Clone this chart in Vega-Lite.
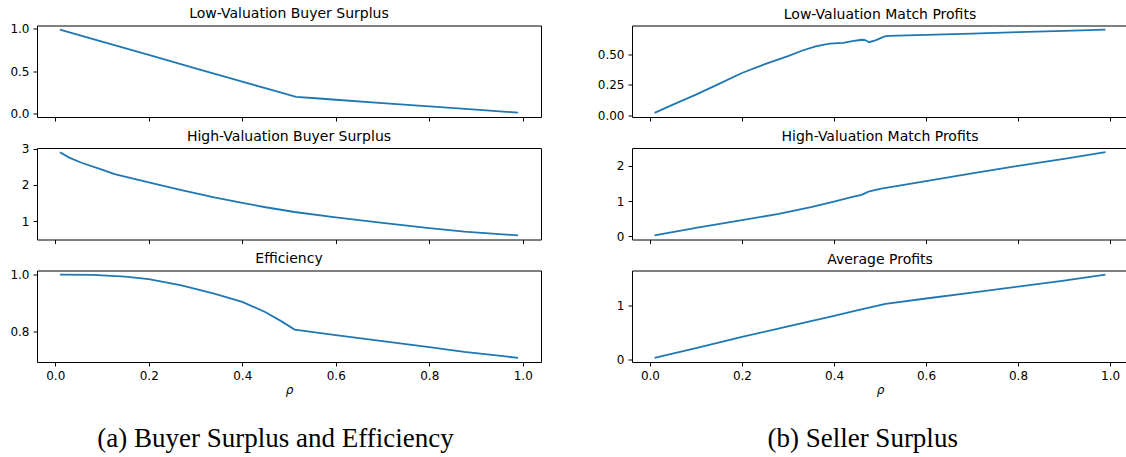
{
  "$schema": "https://vega.github.io/schema/vega-lite/v6.json",
  "padding": {"left": 9, "top": 6.5, "right": 1, "bottom": 4},
  "background": "white",
  "config": {
    "view": {"stroke": "black", "strokeWidth": 1},
    "axis": {"grid": false, "domain": false, "tickColor": "black", "tickSize": 4, "tickWidth": 1, "labelColor": "black", "labelFont": "DejaVu Sans", "labelFontSize": 12, "labelPadding": 4, "titleFont": "DejaVu Sans", "titleFontWeight": "normal", "titleColor": "black", "titleFontSize": 12, "titleFontStyle": "italic", "titlePadding": 3.2},
    "title": {"font": "DejaVu Sans", "fontSize": 14, "fontWeight": "normal", "color": "black"},
    "line": {"color": "#1f77b4", "strokeWidth": 1.8}
  },
  "datasets": {
    "lowBuyer": [
      {"rho": 0.01, "v": 0.99}, {"rho": 0.1, "v": 0.849}, {"rho": 0.2, "v": 0.692}, {"rho": 0.3, "v": 0.535},
      {"rho": 0.4, "v": 0.378}, {"rho": 0.47, "v": 0.268}, {"rho": 0.5, "v": 0.222}, {"rho": 0.515, "v": 0.198},
      {"rho": 0.55, "v": 0.185}, {"rho": 0.6, "v": 0.164}, {"rho": 0.7, "v": 0.124}, {"rho": 0.8, "v": 0.086},
      {"rho": 0.9, "v": 0.047}, {"rho": 0.99, "v": 0.012}
    ],
    "highBuyer": [
      {"rho": 0.01, "v": 2.9}, {"rho": 0.03, "v": 2.75}, {"rho": 0.056, "v": 2.61}, {"rho": 0.1, "v": 2.42},
      {"rho": 0.127, "v": 2.3}, {"rho": 0.2, "v": 2.07}, {"rho": 0.27, "v": 1.86}, {"rho": 0.34, "v": 1.66},
      {"rho": 0.4, "v": 1.51}, {"rho": 0.45, "v": 1.39}, {"rho": 0.512, "v": 1.26}, {"rho": 0.6, "v": 1.11},
      {"rho": 0.7, "v": 0.96}, {"rho": 0.8, "v": 0.82}, {"rho": 0.875, "v": 0.72}, {"rho": 0.99, "v": 0.62}
    ],
    "eff": [
      {"rho": 0.01, "v": 1.0}, {"rho": 0.08, "v": 0.999}, {"rho": 0.15, "v": 0.993}, {"rho": 0.2, "v": 0.984},
      {"rho": 0.27, "v": 0.962}, {"rho": 0.34, "v": 0.933}, {"rho": 0.4, "v": 0.904}, {"rho": 0.45, "v": 0.867},
      {"rho": 0.485, "v": 0.834}, {"rho": 0.512, "v": 0.806}, {"rho": 0.6, "v": 0.786}, {"rho": 0.7, "v": 0.765},
      {"rho": 0.8, "v": 0.744}, {"rho": 0.875, "v": 0.727}, {"rho": 0.99, "v": 0.706}
    ],
    "lowProfit": [
      {"rho": 0.01, "v": 0.02}, {"rho": 0.05, "v": 0.088}, {"rho": 0.1, "v": 0.17}, {"rho": 0.15, "v": 0.258},
      {"rho": 0.2, "v": 0.347}, {"rho": 0.25, "v": 0.42}, {"rho": 0.3, "v": 0.485}, {"rho": 0.33, "v": 0.53},
      {"rho": 0.36, "v": 0.565}, {"rho": 0.39, "v": 0.588}, {"rho": 0.42, "v": 0.595}, {"rho": 0.44, "v": 0.608},
      {"rho": 0.46, "v": 0.62}, {"rho": 0.468, "v": 0.618}, {"rho": 0.476, "v": 0.6}, {"rho": 0.49, "v": 0.615},
      {"rho": 0.51, "v": 0.648}, {"rho": 0.52, "v": 0.652}, {"rho": 0.6, "v": 0.66}, {"rho": 0.7, "v": 0.671},
      {"rho": 0.8, "v": 0.682}, {"rho": 0.9, "v": 0.693}, {"rho": 0.99, "v": 0.703}
    ],
    "highProfit": [
      {"rho": 0.01, "v": 0.03}, {"rho": 0.1, "v": 0.24}, {"rho": 0.2, "v": 0.46}, {"rho": 0.28, "v": 0.64},
      {"rho": 0.35, "v": 0.83}, {"rho": 0.4, "v": 0.99}, {"rho": 0.44, "v": 1.12}, {"rho": 0.46, "v": 1.18},
      {"rho": 0.475, "v": 1.27}, {"rho": 0.5, "v": 1.35}, {"rho": 0.6, "v": 1.57}, {"rho": 0.7, "v": 1.79},
      {"rho": 0.8, "v": 2.0}, {"rho": 0.9, "v": 2.2}, {"rho": 0.99, "v": 2.39}
    ],
    "avgProfit": [
      {"rho": 0.01, "v": 0.025}, {"rho": 0.1, "v": 0.205}, {"rho": 0.2, "v": 0.41}, {"rho": 0.3, "v": 0.605},
      {"rho": 0.4, "v": 0.8}, {"rho": 0.45, "v": 0.9}, {"rho": 0.512, "v": 1.02}, {"rho": 0.6, "v": 1.12},
      {"rho": 0.7, "v": 1.23}, {"rho": 0.8, "v": 1.34}, {"rho": 0.9, "v": 1.45}, {"rho": 0.99, "v": 1.56}
    ]
  },
  "hconcat": [
    {
      "spacing": 30.5,
      "bounds": "flush",
      "title": {"text": "(a) Buyer Surplus and Efficiency", "orient": "bottom", "anchor": "middle", "frame": "bounds", "baseline": "alphabetic", "offset": 51.5, "font": "Liberation Serif", "fontSize": 27},
      "vconcat": [
        {
          "data": {"name": "lowBuyer"},
          "width": 504, "height": 91.5,
          "title": {"text": "Low-Valuation Buyer Surplus", "baseline": "alphabetic", "offset": -9.6},
          "mark": {"type": "line", "clip": true},
          "encoding": {
            "x": {"field": "rho", "type": "quantitative", "scale": {"domain": [-0.039, 1.039], "nice": false, "zero": false}, "axis": {"values": [0, 0.2, 0.4, 0.6, 0.8, 1.0], "labels": false, "title": null}},
            "y": {"field": "v", "type": "quantitative", "scale": {"domain": [-0.039, 1.039], "nice": false, "zero": false}, "axis": {"values": [0, 0.5, 1], "format": ".1f", "title": null}}
          }
        },
        {
          "data": {"name": "highBuyer"},
          "width": 504, "height": 91.5,
          "title": {"text": "High-Valuation Buyer Surplus", "baseline": "alphabetic", "offset": -12.4},
          "mark": {"type": "line", "clip": true},
          "encoding": {
            "x": {"field": "rho", "type": "quantitative", "scale": {"domain": [-0.039, 1.039], "nice": false, "zero": false}, "axis": {"values": [0, 0.2, 0.4, 0.6, 0.8, 1.0], "labels": false, "title": null}},
            "y": {"field": "v", "type": "quantitative", "scale": {"domain": [0.506, 3.014], "nice": false, "zero": false}, "axis": {"values": [1, 2, 3], "format": "d", "title": null}}
          }
        },
        {
          "data": {"name": "eff"},
          "width": 504, "height": 91.5,
          "title": {"text": "Efficiency", "baseline": "alphabetic", "offset": -8.7},
          "mark": {"type": "line", "clip": true},
          "encoding": {
            "x": {"field": "rho", "type": "quantitative", "scale": {"domain": [-0.039, 1.039], "nice": false, "zero": false}, "axis": {"values": [0, 0.2, 0.4, 0.6, 0.8, 1.0], "format": ".1f", "title": "ρ"}},
            "y": {"field": "v", "type": "quantitative", "scale": {"domain": [0.6913, 1.0147], "nice": false, "zero": false}, "axis": {"values": [0.8, 1.0], "format": ".1f", "title": null}}
          }
        }
      ]
    },
    {
      "spacing": 30.5,
      "bounds": "flush",
      "title": {"text": "(b) Seller Surplus", "orient": "bottom", "anchor": "middle", "frame": "bounds", "baseline": "alphabetic", "offset": 51.5, "font": "Liberation Serif", "fontSize": 27},
      "vconcat": [
        {
          "data": {"name": "lowProfit"},
          "width": 496, "height": 91.5,
          "title": {"text": "Low-Valuation Match Profits", "baseline": "alphabetic", "offset": -7.4},
          "mark": {"type": "line", "clip": true},
          "encoding": {
            "x": {"field": "rho", "type": "quantitative", "scale": {"domain": [-0.039, 1.039], "nice": false, "zero": false}, "axis": {"values": [0, 0.2, 0.4, 0.6, 0.8, 1.0], "labels": false, "title": null}},
            "y": {"field": "v", "type": "quantitative", "scale": {"domain": [-0.0142, 0.7372], "nice": false, "zero": false}, "axis": {"values": [0, 0.25, 0.5], "format": ".2f", "title": null}}
          }
        },
        {
          "data": {"name": "highProfit"},
          "width": 496, "height": 91.5,
          "title": {"text": "High-Valuation Match Profits", "baseline": "alphabetic", "offset": -7.4},
          "mark": {"type": "line", "clip": true},
          "encoding": {
            "x": {"field": "rho", "type": "quantitative", "scale": {"domain": [-0.039, 1.039], "nice": false, "zero": false}, "axis": {"values": [0, 0.2, 0.4, 0.6, 0.8, 1.0], "labels": false, "title": null}},
            "y": {"field": "v", "type": "quantitative", "scale": {"domain": [-0.088, 2.508], "nice": false, "zero": false}, "axis": {"values": [0, 1, 2], "format": "d", "title": null}}
          }
        },
        {
          "data": {"name": "avgProfit"},
          "width": 496, "height": 91.5,
          "title": {"text": "Average Profits", "baseline": "alphabetic", "offset": -7.4},
          "mark": {"type": "line", "clip": true},
          "encoding": {
            "x": {"field": "rho", "type": "quantitative", "scale": {"domain": [-0.039, 1.039], "nice": false, "zero": false}, "axis": {"values": [0, 0.2, 0.4, 0.6, 0.8, 1.0], "format": ".1f", "title": "ρ"}},
            "y": {"field": "v", "type": "quantitative", "scale": {"domain": [-0.0518, 1.6368], "nice": false, "zero": false}, "axis": {"values": [0, 1], "format": "d", "title": null}}
          }
        }
      ]
    }
  ],
  "spacing": 54
}
